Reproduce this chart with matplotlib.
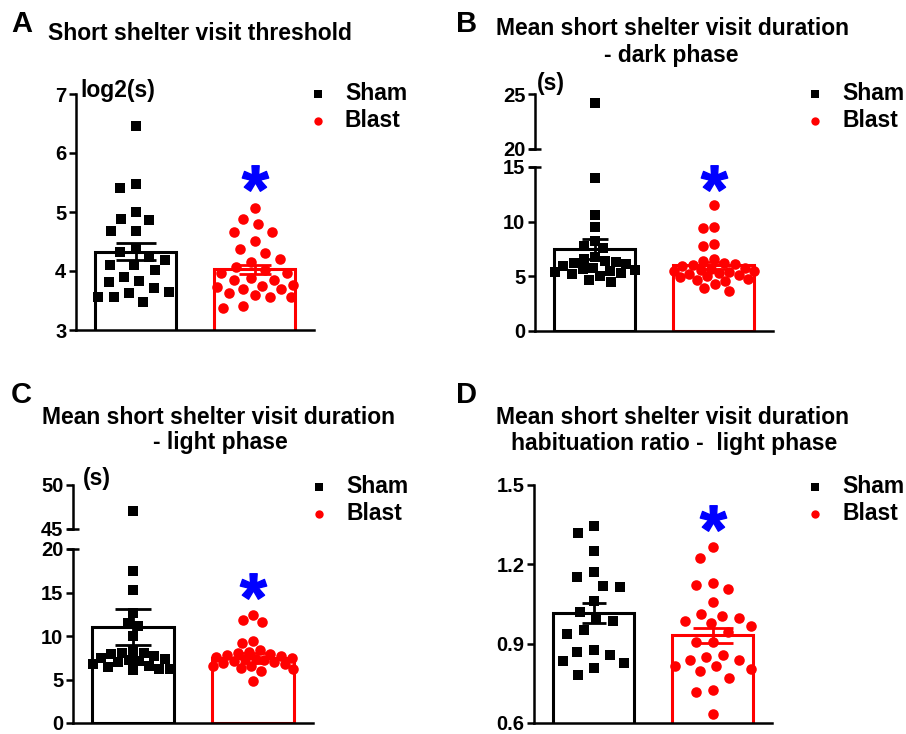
import numpy as np
import matplotlib
matplotlib.use('Agg')
import matplotlib.pyplot as plt
from matplotlib.transforms import blended_transform_factory

plt.rcParams['font.family'] = ['Liberation Sans', 'DejaVu Sans']
plt.rcParams['font.weight'] = 'bold'
plt.rcParams['mathtext.fontset'] = 'custom'
plt.rcParams['mathtext.rm'] = 'Liberation Sans:bold'
plt.rcParams['mathtext.bf'] = 'Liberation Sans:bold'

# ---------------- data ----------------
groups = ['Sham', 'Blast']

a_title = 'Short shelter visit threshold'
a_unit = 'log2(s)'
a_ticks = [3, 4, 5, 6, 7]
a_sham = [6.45, 5.47, 5.41, 5.00, 4.88, 4.86, 4.67, 4.67, 4.38, 4.33, 4.24, 4.19,
          4.11, 4.11, 4.02, 3.90, 3.83, 3.82, 3.71, 3.65, 3.62, 3.56, 3.56, 3.48]
a_blast = [5.07, 4.88, 4.80, 4.66, 4.66, 4.51, 4.38, 4.30, 4.21, 4.16, 4.07, 4.02,
           3.97, 3.96, 3.88, 3.85, 3.85, 3.76, 3.75, 3.73, 3.69, 3.69, 3.62, 3.59,
           3.56, 3.56, 3.41, 3.37]
a_means = [4.33, 4.03]
a_sems = [0.15, 0.08]
a_star = 5.58

b_title = ['Mean short shelter visit duration', '- dark phase']
b_unit = '(s)'
b_ticks_lo = [0, 5, 10, 15]
b_ticks_hi = [20, 25]
b_sham = [24.2, 14.0, 10.6, 9.5, 8.2, 7.8, 7.6, 6.8, 6.6, 6.4, 6.3, 6.2, 6.1, 5.9,
          5.8, 5.7, 5.6, 5.5, 5.4, 5.3, 5.2, 5.0, 4.7, 4.5]
b_blast = [11.5, 9.5, 9.4, 8.0, 7.8, 6.6, 6.4, 6.2, 6.1, 6.0, 5.9, 5.8, 5.7, 5.6,
           5.5, 5.5, 5.4, 5.3, 5.2, 5.1, 5.0, 4.9, 4.8, 4.7, 4.6, 4.3, 3.9, 3.7]
b_means = [7.5, 6.0]
b_sems = [0.92, 0.3]
b_star = 14.0

c_title = ['Mean short shelter visit duration', '- light phase']
c_unit = '(s)'
c_ticks_lo = [0, 5, 10, 15, 20]
c_ticks_hi = [45, 50]
c_sham = [47.0, 17.5, 15.3, 12.6, 11.5, 11.1, 10.0, 8.3, 8.1, 8.1, 7.9, 7.7, 7.5,
          7.3, 7.2, 7.1, 7.0, 6.8, 6.6, 6.4, 6.2, 6.2, 6.1]
c_blast = [12.4, 11.8, 11.6, 9.4, 9.2, 8.4, 8.2, 8.0, 7.9, 7.8, 7.7, 7.6, 7.5, 7.4,
           7.3, 7.2, 7.1, 7.0, 6.9, 6.8, 6.6, 6.5, 6.3, 6.2, 6.0, 4.8]
c_means = [11.0, 7.5]
c_sems = [2.05, 0.55]
c_star = 15.8

d_title = ['Mean short shelter visit duration', 'habituation ratio -  light phase']
d_ticks = [0.6, 0.9, 1.2, 1.5]
d_tick_labels = ['0.6', '0.9', '1.2', '1.5']
d_sham = [1.345, 1.317, 1.25, 1.172, 1.153, 1.118, 1.116, 1.06, 1.02, 0.996, 0.984,
          0.952, 0.936, 0.877, 0.87, 0.858, 0.833, 0.826, 0.808, 0.782]
d_blast = [1.267, 1.223, 1.131, 1.122, 1.106, 1.059, 1.013, 1.005, 0.996, 0.987,
           0.977, 0.967, 0.946, 0.908, 0.908, 0.858, 0.848, 0.839, 0.839, 0.814,
           0.814, 0.804, 0.795, 0.77, 0.723, 0.716, 0.635]
d_means = [1.015, 0.931]
d_sems = [0.037, 0.03]
d_star = 1.375

# ---------------- layout helpers ----------------
W, H = 906, 734
fig = plt.figure(figsize=(W / 100, H / 100), dpi=100)

def fx(x):
    return x / W

def fy(y):
    return 1 - y / H

def add_axes(l, t, r, b):
    return fig.add_axes([l / W, 1 - b / H, (r - l) / W, (b - t) / H])

COLORS = ['black', 'red']
MARKERS = ['s', 'o']
LW_SPINE = 1.8
TICK_FS = 14.5
TEXT_FS = 16.5

def style_axes(ax, ylim, ticks, labels=None, bottom=True, fs=TICK_FS):
    ax.set_xlim(-0.5, 1.5)
    ax.set_ylim(*ylim)
    ax.set_yticks(ticks)
    if labels is not None:
        ax.set_yticklabels(labels)
    ax.set_xticks([])
    for s in ['top', 'right']:
        ax.spines[s].set_visible(False)
    ax.spines['left'].set_linewidth(LW_SPINE)
    ax.spines['bottom'].set_linewidth(LW_SPINE)
    if not bottom:
        ax.spines['bottom'].set_visible(False)
    ax.tick_params(axis='y', labelsize=fs, width=LW_SPINE, length=5, pad=2)
    ax.patch.set_alpha(0)

def swarm(vals, to_px, d, maxw):
    vals = np.asarray(vals, dtype=float)
    order = np.argsort(-vals, kind='stable')
    xs = np.zeros(len(vals))
    placed = []
    grid = np.linspace(-maxw, maxw, 81)
    for i in order:
        y = to_px(vals[i])
        cands = [0.0]
        for (px, py) in placed:
            dy = y - py
            if abs(dy) < d:
                dx = np.sqrt(d * d - dy * dy)
                cands += [px + dx, px - dx]
        cands = [c for c in cands if abs(c) <= maxw + 1e-9]
        cands.sort(key=lambda c: (abs(c), c))
        chosen = None
        for c in cands:
            if all((c - px) ** 2 + (y - py) ** 2 >= d * d - 1e-6 for px, py in placed):
                chosen = c
                break
        if chosen is None:
            best, bestd = 0.0, -1
            for c in sorted(grid, key=lambda c: (abs(c), c)):
                md = min((c - px) ** 2 + (y - py) ** 2 for px, py in placed)
                if md > bestd + 1e-6:
                    best, bestd = c, md
            chosen = best
        xs[i] = chosen
        placed.append((chosen, y))
    return xs

def cap(ax, yv):
    tr = blended_transform_factory(ax.transAxes, ax.transData)
    ax.plot([-0.027, 0.027], [yv, yv], color='black', lw=LW_SPINE, transform=tr,
            clip_on=False, solid_capstyle='butt', zorder=5)

def draw_panel(ax_lo, ax_hi, data, means, sems, to_px, x_px_unit, capsizes,
               star, break_val=None, dist=13.0, maxw=40.0):
    ax_lo.bar([0, 1], means, width=0.68, color='white', edgecolor=COLORS,
              linewidth=2.2, zorder=1)
    for gi, vals in enumerate(data):
        offs = swarm(vals, to_px, dist, maxw) / x_px_unit
        vals = np.asarray(vals)
        xs = gi + offs
        if break_val is None:
            lo = np.ones(len(vals), bool)
        else:
            lo = vals <= break_val
        ax_lo.plot(xs[lo], vals[lo], linestyle='none', marker=MARKERS[gi],
                   color=COLORS[gi], markersize=7.6, markeredgewidth=0,
                   zorder=3, clip_on=False)
        if ax_hi is not None and (~lo).any():
            ax_hi.plot(xs[~lo], vals[~lo], linestyle='none', marker=MARKERS[gi],
                       color=COLORS[gi], markersize=7.6, markeredgewidth=0,
                       zorder=3, clip_on=False)
        ax_lo.errorbar(gi, means[gi], yerr=sems[gi], color=COLORS[gi],
                       elinewidth=2, capthick=2, capsize=capsizes[gi] / 1.389,
                       zorder=4)
    ax_lo.plot([1], [star], linestyle='none', marker=r'$\mathbf{*}$',
               color='#0000FF', markersize=19, zorder=5, clip_on=False)

# ---------------- Panel A ----------------
axA = add_axes(76, 94, 314, 330)
style_axes(axA, (3, 7), a_ticks)
draw_panel(axA, None, [a_sham, a_blast], a_means, a_sems,
           lambda v: v * 59.0, 119.0, (20, 16), a_star, dist=16.0, maxw=38.0)

# ---------------- Panel B ----------------
axB = add_axes(535, 167, 773, 331)
axBh = add_axes(535, 94, 773, 149)
style_axes(axB, (0, 15), b_ticks_lo)
style_axes(axBh, (20, 25), b_ticks_hi, bottom=False)
cap(axB, 15)
cap(axBh, 20)
draw_panel(axB, axBh, [b_sham, b_blast], b_means, b_sems,
           lambda v: v * 10.93 if v <= 15 else 182 + (v - 20) * 11.0,
           119.0, (13, 13), b_star, break_val=15, dist=11.0, maxw=40.0)

# ---------------- Panel C ----------------
axC = add_axes(73, 549, 313, 723)
axCh = add_axes(73, 485, 313, 529)
style_axes(axC, (0, 20), c_ticks_lo)
style_axes(axCh, (45, 50), c_ticks_hi, bottom=False)
cap(axC, 20)
cap(axCh, 45)
draw_panel(axC, axCh, [c_sham, c_blast], c_means, c_sems,
           lambda v: v * 8.7 if v <= 20 else 194 + (v - 45) * 8.8,
           120.0, (18, 13), c_star, break_val=20, dist=11.0, maxw=40.0)

# ---------------- Panel D ----------------
axD = add_axes(534, 485, 772, 723)
style_axes(axD, (0.6, 1.5), d_ticks, d_tick_labels)
draw_panel(axD, None, [d_sham, d_blast], d_means, d_sems,
           lambda v: v * 264.5, 119.0, (12, 20), d_star, dist=17.0, maxw=38.0)

# ---------------- Texts ----------------
LET_FS = 21
fig.text(fx(11), fy(32), 'A', fontsize=LET_FS, ha='left', va='baseline')
fig.text(fx(456), fy(32), 'B', fontsize=LET_FS, ha='left', va='baseline')
fig.text(fx(11), fy(403), 'C', fontsize=LET_FS, ha='left', va='baseline')
fig.text(fx(456), fy(403), 'D', fontsize=LET_FS, ha='left', va='baseline')

fig.text(fx(48), fy(40), a_title, fontsize=TEXT_FS, ha='left', va='baseline')
fig.text(fx(673), fy(35), b_title[0], fontsize=TEXT_FS, ha='center', va='baseline')
fig.text(fx(671), fy(62), b_title[1], fontsize=TEXT_FS, ha='center', va='baseline')
fig.text(fx(219), fy(424), c_title[0], fontsize=TEXT_FS, ha='center', va='baseline')
fig.text(fx(220), fy(449), c_title[1], fontsize=TEXT_FS, ha='center', va='baseline')
fig.text(fx(673), fy(424), d_title[0], fontsize=TEXT_FS, ha='center', va='baseline')
fig.text(fx(674), fy(450), d_title[1], fontsize=TEXT_FS, ha='center', va='baseline')

fig.text(fx(80), fy(97), a_unit, fontsize=TEXT_FS, ha='left', va='baseline')
fig.text(fx(537), fy(90), b_unit, fontsize=TEXT_FS, ha='left', va='baseline')
fig.text(fx(83), fy(485), c_unit, fontsize=TEXT_FS, ha='left', va='baseline')

# legends
def legend(mx, tx, y1, y2):
    for k, (yy, lab) in enumerate([(y1, groups[0]), (y2, groups[1])]):
        fig.lines.append(plt.Line2D([fx(mx)], [fy(yy - 6)], transform=fig.transFigure,
                                    linestyle='none', marker=MARKERS[k],
                                    color=COLORS[k], markersize=6,
                                    markeredgewidth=0))
        fig.text(fx(tx), fy(yy), lab, fontsize=TEXT_FS, ha='left', va='baseline')

legend(318, 345, 100, 127)
legend(815, 842, 100, 127)
legend(319, 346, 493, 520)
legend(815, 842, 493, 520)

fig.savefig('out.png', dpi=100)
